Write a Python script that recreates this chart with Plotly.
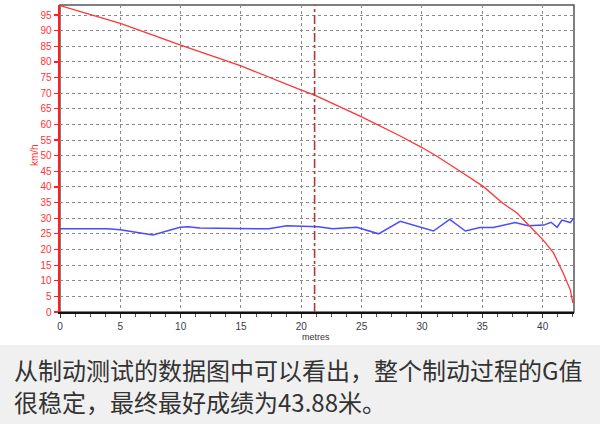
import plotly.graph_objects as go

# ---- data ----
speed_dist = [0, 5, 10, 15, 20, 21.1, 25, 28.2, 30, 31.2, 33.0, 35.1, 36.7, 37.9,
              39.1, 40.05, 40.9, 41.7, 42.3, 42.5]
speed_kmh = [98, 92.3, 85.4, 78.7, 71.0, 69.4, 62.4, 56.3, 52.6, 49.9, 45.4, 40.1, 34.8, 31.6,
             26.8, 23.0, 18.9, 12.5, 7.0, 2.9]

g_dist = [0, 3.9, 5, 7.7, 9.95, 10.6, 11.6, 15.1, 17.3, 18.8, 20, 21.4, 22.6, 24.6,
          26.4, 28.2, 30.95, 32.3, 33.6, 34.8, 35.9, 37.7, 38.8, 40.1, 40.7, 41.2,
          41.6, 42.3, 42.56]
g_value = [26.6, 26.6, 26.3, 24.6, 27.1, 27.3, 26.9, 26.6, 26.6, 27.6, 27.5, 27.3, 26.6, 27.1,
           25.0, 29.0, 25.9, 29.6, 25.9, 27.0, 27.0, 28.6, 27.6, 27.8, 28.7, 27.1,
           29.4, 28.6, 30.0]

marker_distance = 21.1
x_range = [0, 42.6]
y_range = [0, 98.2]
x_title = "metres"
y_title = "km/h"
caption_lines = ["从制动测试的数据图中可以看出，整个制动过程的G值",
                 "很稳定，最终最好成绩为43.88米。"]

# ---- figure ----
W, H = 600, 424
L, R, T, B = 60, 26, 5, 112
pw, ph = W - L - R, H - T - B


def px_x(X):
    return (X - L) / pw


def px_y(Y):
    return (H - B - Y) / ph


fig = go.Figure()
fig.add_trace(go.Scatter(x=g_dist, y=g_value, mode="lines",
                         line=dict(color="#4a4aff", width=1.5), hoverinfo="skip"))
fig.add_trace(go.Scatter(x=speed_dist, y=speed_kmh, mode="lines",
                         line=dict(color="#ff3535", width=1.3), hoverinfo="skip"))

shapes = [
    # gray caption band
    dict(type="rect", xref="paper", yref="paper", x0=px_x(0), x1=px_x(W),
         y0=px_y(H), y1=px_y(345), fillcolor="#f0f0f0", line=dict(width=0), layer="below"),
    # frame (top/right)
    dict(type="rect", xref="paper", yref="paper", x0=0, x1=1, y0=0, y1=1,
         line=dict(color="#555555", width=1.5), layer="below"),
    # vertical marker
    dict(type="line", xref="x", yref="paper", x0=marker_distance, x1=marker_distance,
         y0=0, y1=1, line=dict(color="#b5343f", width=1.6, dash="dashdot")),
]

annotations = [
    dict(text=x_title, xref="paper", yref="paper", x=px_x(316), y=px_y(337),
         showarrow=False, font=dict(family="Liberation Sans", size=9, color="#333333"),
         xanchor="center", yanchor="middle"),
    dict(text=y_title, xref="paper", yref="paper", x=px_x(34), y=px_y(155),
         showarrow=False, textangle=-90,
         font=dict(family="Liberation Sans", size=10, color="#ff3333"),
         xanchor="center", yanchor="middle"),
]
for i, line in enumerate(caption_lines):
    annotations.append(dict(text=line, xref="paper", yref="paper",
                            x=px_x(12), y=px_y(369.5 + 32 * i), showarrow=False,
                            xanchor="left", yanchor="middle",
                            font=dict(family="Noto Sans CJK SC", size=24, color="#333333")))

fig.update_layout(
    width=W, height=H,
    margin=dict(l=L, r=R, t=T, b=B),
    paper_bgcolor="white", plot_bgcolor="white",
    showlegend=False,
    shapes=shapes, annotations=annotations,
    xaxis=dict(range=x_range, dtick=5, tick0=0, showgrid=True, gridcolor="#8a8a8a",
               griddash="3px,3px", gridwidth=1, zeroline=False,
               showline=True, linecolor="#111111", linewidth=2,
               ticks="outside", ticklen=4, tickcolor="#333333",
               minor=dict(dtick=1.25, ticks="outside", ticklen=3, tickcolor="#555555",
                          showgrid=False),
               tickfont=dict(family="Liberation Sans", size=10, color="#3a3a4a")),
    yaxis=dict(range=y_range, dtick=5, tick0=0, showgrid=True, gridcolor="#8a8a8a",
               griddash="3px,3px", gridwidth=1, zeroline=False,
               showline=True, linecolor="#ff2020", linewidth=2.5,
               ticks="outside", ticklen=4, tickcolor="#ff2020", tickwidth=1.2,
               tickfont=dict(family="Liberation Sans", size=10, color="#ff3333")),
)

fig.write_html("out.html",
               config={"displayModeBar": False, "staticPlot": True},
               post_script="document.body.style.margin='0';document.body.style.overflow='hidden';")
